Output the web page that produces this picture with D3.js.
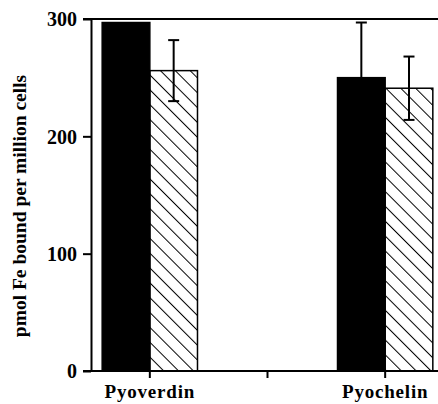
<!DOCTYPE html>
<html>
<head>
<meta charset="utf-8">
<script src="https://cdn.jsdelivr.net/npm/d3@7"></script>
<style>
  body { margin: 0; background: #fff; }
  svg text { font-family: "Liberation Serif", "DejaVu Serif", serif; font-weight: bold; fill: #000; }
</style>
</head>
<body>
<div id="vis"></div>
<script>
// Daten
var slots = ['Pyoverdin', 'gap', 'Pyochelin'];
var slotLabels = ['Pyoverdin', '', 'Pyochelin'];
var categories = ['Pyoverdin', 'Pyochelin'];
var series = ['solid', 'hatched'];
var solidValues = [297, 250];
var solidErrors = [0, 47];
var hatchedValues = [256, 241];
var hatchedErrors = [26, 27];
var yTicks = [0, 100, 200, 300];

var width = 438;
var height = 404;
var margin = {top: 19, right: -6, bottom: 33, left: 91};

var svg = d3.select('#vis').append('svg')
    .attr('width', width)
    .attr('height', height);

// Schraffur (\\\)
var defs = svg.append('defs');
defs.append('pattern')
    .attr('id', 'hatch')
    .attr('patternUnits', 'userSpaceOnUse')
    .attr('width', 10.5)
    .attr('height', 10.5)
    .attr('patternTransform', 'rotate(-45)')
  .append('line')
    .attr('x1', 0).attr('y1', 0)
    .attr('x2', 0).attr('y2', 10.5)
    .attr('stroke', '#000')
    .attr('stroke-width', 2);

var x = d3.scaleBand()
    .domain(slots)
    .range([margin.left, width - margin.right]);

var y = d3.scaleLinear()
    .domain([0, 300])
    .range([height - margin.bottom, margin.top]);

var groupWidth = x.bandwidth() * 0.81;
var x1 = d3.scaleBand()
    .domain(series)
    .range([-groupWidth / 2, groupWidth / 2]);

// Daten zusammenbauen
var bars = [];
categories.forEach(function (c, i) {
    bars.push({cat: c, s: 'solid', value: solidValues[i], err: solidErrors[i]});
    bars.push({cat: c, s: 'hatched', value: hatchedValues[i], err: hatchedErrors[i]});
});

function cx(d) {
    return x(d.cat) + x.bandwidth() / 2 + x1(d.s);
}

// Balken
svg.selectAll('.bar')
    .data(bars)
    .enter().append('rect')
    .attr('class', 'bar')
    .attr('x', cx)
    .attr('y', function (d) { return y(d.value); })
    .attr('width', x1.bandwidth())
    .attr('height', function (d) { return y(0) - y(d.value); })
    .attr('fill', function (d) { return d.s === 'solid' ? '#000' : 'url(#hatch)'; })
    .attr('stroke', '#000')
    .attr('stroke-width', 1.5);

// Fehlerbalken
var errs = bars.filter(function (d) { return d.err > 0; });
var eg = svg.selectAll('.err')
    .data(errs)
    .enter().append('g')
    .attr('class', 'err')
    .attr('stroke', '#000')
    .attr('stroke-width', 2);
eg.append('line')
    .attr('x1', function (d) { return cx(d) + x1.bandwidth() / 2; })
    .attr('x2', function (d) { return cx(d) + x1.bandwidth() / 2; })
    .attr('y1', function (d) { return y(d.value - d.err); })
    .attr('y2', function (d) { return y(d.value + d.err); });
[1, -1].forEach(function (sign) {
    eg.append('line')
        .attr('x1', function (d) { return cx(d) + x1.bandwidth() / 2 - 5.5; })
        .attr('x2', function (d) { return cx(d) + x1.bandwidth() / 2 + 5.5; })
        .attr('y1', function (d) { return y(d.value + sign * d.err); })
        .attr('y2', function (d) { return y(d.value + sign * d.err); });
});

// obere Rahmenlinie
svg.append('line')
    .attr('x1', margin.left - 8)
    .attr('x2', width)
    .attr('y1', y(300))
    .attr('y2', y(300))
    .attr('stroke', '#000')
    .attr('stroke-width', 2);

// Achsen
var yAxis = svg.append('g')
    .attr('transform', 'translate(' + margin.left + ',0)')
    .call(d3.axisLeft(y).tickValues(yTicks).tickSize(8).tickPadding(6).tickSizeOuter(0));
yAxis.select('.domain').attr('stroke-width', 2);
yAxis.selectAll('.tick line').attr('stroke-width', 2);
yAxis.selectAll('text').attr('font-size', 20).attr('font-family', null).attr('dy', '0.34em');

var xAxis = svg.append('g')
    .attr('transform', 'translate(0,' + y(0) + ')')
    .call(d3.axisBottom(x).tickFormat(function (d, i) { return slotLabels[i]; })
        .tickSize(7).tickPadding(7).tickSizeOuter(0));
xAxis.select('.domain').attr('d', 'M' + (margin.left - 8) + ',0H' + width).attr('stroke-width', 2);
xAxis.selectAll('.tick line').attr('stroke-width', 2);
xAxis.selectAll('text').attr('font-size', 19).attr('font-family', null).attr('letter-spacing', 0.8);

// Achsentitel
svg.append('text')
    .attr('transform', 'translate(26,' + 206 + ') rotate(-90)')
    .attr('text-anchor', 'middle')
    .attr('font-size', 19.5)
    .text('pmol Fe bound per million cells');
</script>
</body>
</html>
